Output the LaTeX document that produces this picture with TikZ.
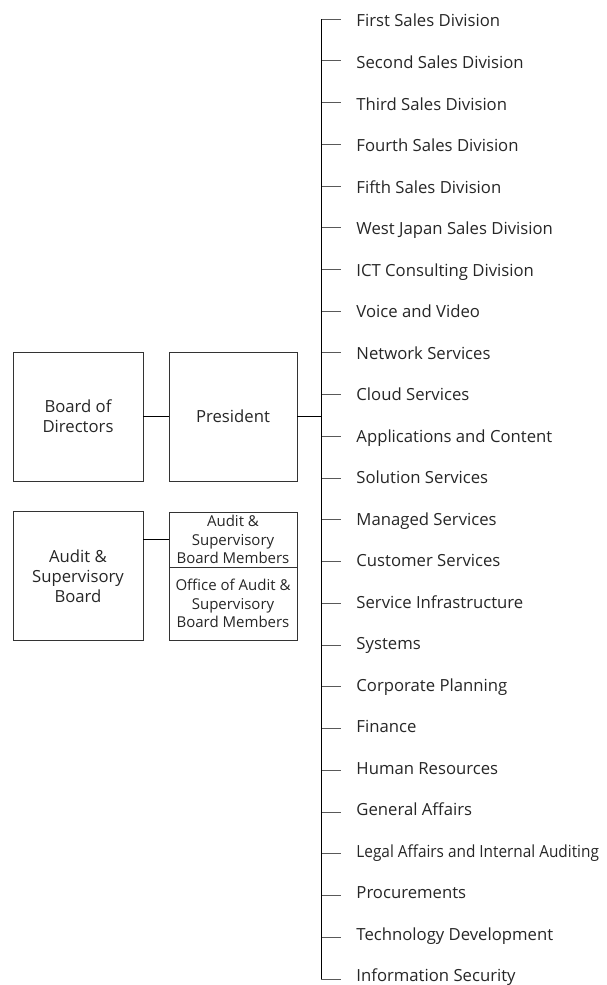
\documentclass[tikz,border=0pt]{standalone}
\usepackage{fontspec}
\setmainfont{Open Sans}
\usetikzlibrary{positioning}

\tikzset{
  unitbox/.style={draw=black!80, minimum width=130pt, minimum height=129pt, align=center, inner sep=2pt},
  memberbox/.style={draw=black!80, minimum width=128pt, align=center, inner sep=1pt, font=\fontsize{15}{18.3}\selectfont},
  dept/.style={anchor=base west, inner sep=0pt, text=black!85},
  tick/.style={draw=black!65},
}

\begin{document}
\begin{tikzpicture}[x=1pt, y=-1pt, line width=0.9pt, font=\fontsize{16.7}{20}\selectfont, text=black!85]
    \useasboundingbox (0,0) rectangle (606,985);

    % left side
    \node[unitbox] (board) at (78,416.5) {Board of\\Directors};
    \node[unitbox, minimum width=128pt] (pres) at (233,416.5) {President};
    \node[unitbox] (audit) at (78,576) {Audit \&\\Supervisory\\Board};
    \node[memberbox, minimum height=55pt] (members) at (233,539.5) {Audit \&\\Supervisory\\Board Members};
    \node[memberbox, minimum height=73pt, below=-0.9pt of members] (office) {Office of Audit \&\\Supervisory\\Board Members};

    \draw (board) -- (pres);
    \draw (audit.east |- members) -- (members);

    % divisions
    \foreach \i/\name in {1/First Sales Division, 2/Second Sales Division, 3/Third Sales Division,
        4/Fourth Sales Division, 5/Fifth Sales Division, 6/West Japan Sales Division,
        7/ICT Consulting Division, 8/Voice and Video, 9/Network Services, 10/Cloud Services,
        11/Applications and Content, 12/Solution Services, 13/Managed Services,
        14/Customer Services, 15/Service Infrastructure, 16/Systems, 17/Corporate Planning,
        18/Finance, 19/Human Resources, 20/General Affairs,
        21/{\scalebox{0.92}[1]{Legal Affairs and Internal Auditing}},
        22/Procurements, 23/Technology Development, 24/Information Security}
    {
        \coordinate (t\i) at (321, {19+(\i-1)*41.74});
        \node[dept] (d\i) at (356, {27+(\i-1)*41.5}) {\name};
        \draw[tick] (t\i) -- ([xshift=-15pt]d\i.west |- t\i);
    }

    \draw (t1) -- (t24);
    \draw (pres.east) -- (pres.east -| t1);

\end{tikzpicture}
\end{document}
